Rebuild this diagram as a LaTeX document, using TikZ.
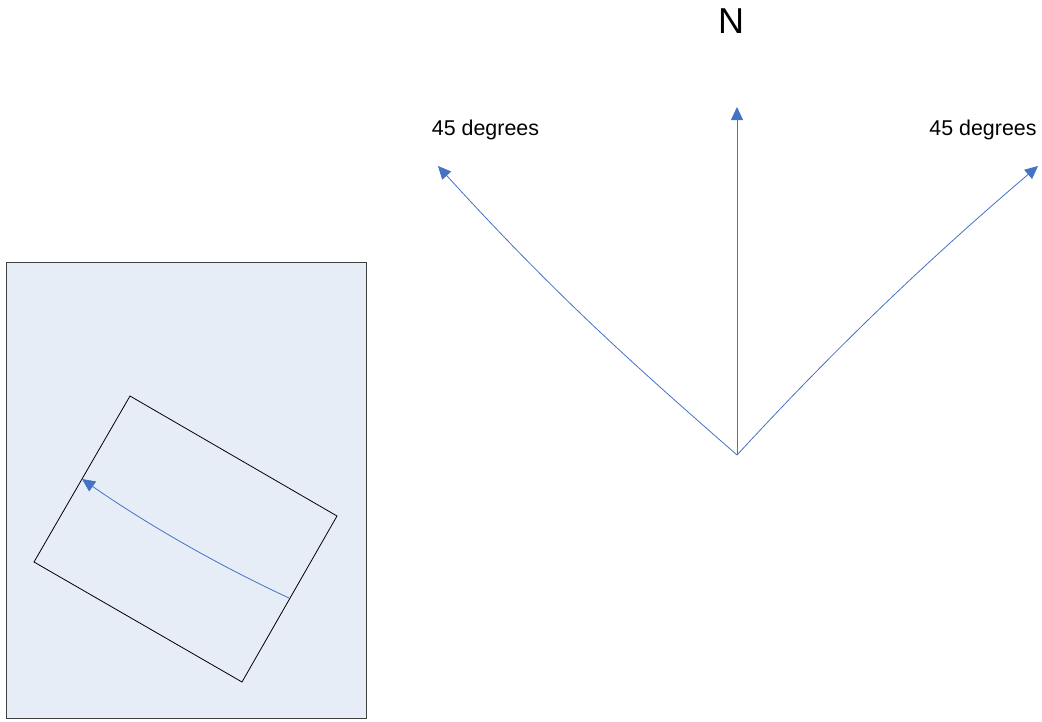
\documentclass[tikz,border=0pt]{standalone}
\usepackage{fontspec}
\setmainfont{Liberation Sans}
\usetikzlibrary{arrows.meta}
\definecolor{arrowblue}{HTML}{4472C4}
\definecolor{panelfill}{HTML}{E7EDF7}
\definecolor{panelline}{HTML}{404040}
\tikzset{
  dirarrow/.style={draw=arrowblue, line width=0.8pt, -{Triangle[length=13pt,width=12pt]}},
  lbl/.style={inner sep=0pt, font=\fontsize{21.4}{25}\selectfont},
}
\begin{document}
\begin{tikzpicture}[x=1pt,y=-1pt]
\useasboundingbox (0,0) rectangle (1042,721);
% panel
\draw[fill=panelfill, draw=panelline, line width=0.9pt] (6,262) rectangle (366,718);
% rotated rectangle
\coordinate (rt) at (130,396);
\coordinate (rr) at (337,516);
\coordinate (rb) at (242,682);
\coordinate (rl) at (34,562);
\draw[black, line width=0.8pt] (rt) -- (rr) -- (rb) -- (rl) -- cycle;
% curved arrow
\coordinate (cs) at (289,598);
\coordinate (ce) at (82,479);
\draw[dirarrow] (cs) .. controls (205,559) and (135,516) .. (ce);
% compass
\coordinate (o) at (737,455);
\coordinate (tn) at (737,107);
\coordinate (tl) at (438,166);
\coordinate (tr) at (1038,166);
\draw[dirarrow] (o) -- (tn);
\draw[dirarrow] (o) .. controls (640,370) and (560,300) .. (tl);
\draw[dirarrow] (o) .. controls (820,365) and (910,275) .. (tr);
\node[inner sep=0pt, font=\fontsize{36}{40}\selectfont] (n) at (731,21) {N};
\node[lbl] (l1) at (485.5,130) {45 degrees};
\node[lbl] (l2) at (983,130) {45 degrees};
\end{tikzpicture}
\end{document}
